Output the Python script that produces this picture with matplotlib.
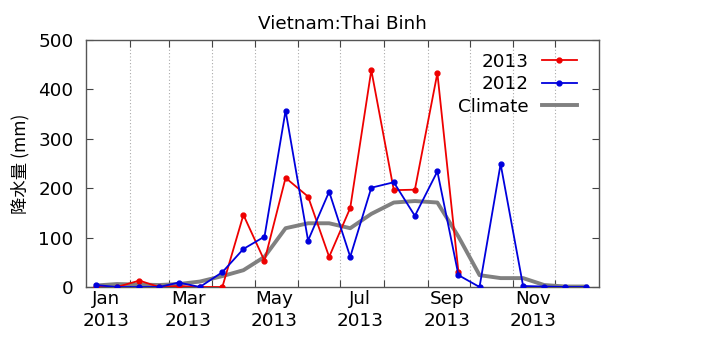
import datetime as dt
import matplotlib
matplotlib.use("Agg")
import matplotlib.pyplot as plt
import matplotlib.dates as mdates

# semi-monthly rainfall (mm), Thai Binh
half_months = [(m, d) for m in range(1, 13) for d in (8, 23)]
dates = [dt.date(2013, m, 22 if (m == 2 and d == 23) else d) for m, d in half_months]

rain_2013 = [0, 0, 13, 0, 2, 0, 0, 146, 53, 221, 183, 61,
             160, 439, 196, 197, 433, 30]
rain_2012 = [4, 0, 0, 0, 9, 0, 30, 77, 102, 357, 94, 193,
             61, 201, 212, 144, 234, 24, 0, 249, 2, 1, 0, 0]
climate = [3, 6, 5, 4, 6, 11, 22, 34, 61, 119, 129, 129,
           119, 148, 171, 174, 171, 102, 24, 18, 18, 4, 1, 1]

month_starts = [dt.date(2013, m, 1) for m in range(2, 13)]
label_dates = [dt.date(2013, m, 15) for m in (1, 3, 5, 7, 9, 11)]
label_texts = ["Jan\n2013", "Mar\n2013", "May\n2013", "Jul\n2013", "Sep\n2013", "Nov\n2013"]

fs = 13.2
plt.rcParams['font.family'] = ['DejaVu Sans']
fig = plt.figure(figsize=(7.02, 3.39), dpi=100)
ax = fig.add_axes([86 / 702, 52 / 339, 513 / 702, 247 / 339])

ax.plot(dates, climate, color='#808080', lw=2.8, label='Climate', zorder=2)
ax.plot(dates[:len(rain_2013)], rain_2013, color='#ee0000', lw=1.3,
        marker='o', ms=3.5, label='2013', zorder=3)
ax.plot(dates, rain_2012, color='#0000dd', lw=1.3,
        marker='o', ms=3.5, label='2012', zorder=4)

ax.set_xlim(dt.date(2013, 1, 1), dt.date(2014, 1, 1))
ax.set_ylim(0, 500)
ax.set_yticks(range(0, 501, 100))

ax.set_xticks(month_starts)
ax.set_xticklabels([])
ax.set_xticks(label_dates, minor=True)
ax.set_xticklabels(label_texts, minor=True, linespacing=1.3)
ax.tick_params(axis='x', which='minor', length=0, pad=2, labelsize=fs)
ax.tick_params(axis='x', which='major', direction='in', length=5,
               top=True, color='#444444')
ax.tick_params(axis='y', direction='in', length=5, right=True,
               labelsize=fs, color='#444444', pad=9)
ax.grid(axis='x', which='major', color='#aaaaaa', ls=(0, (1, 2)), lw=0.8)

for sp in ax.spines.values():
    sp.set_color('#555555')
    sp.set_linewidth(1.0)

ax.set_title('Vietnam:Thai Binh', fontsize=fs, pad=8)
ax.set_ylabel('降水量 (mm)', family=['Noto Sans CJK JP', 'DejaVu Sans'],
              fontsize=12.5, labelpad=6)

handles, labels = ax.get_legend_handles_labels()
order = [1, 2, 0]
leg = ax.legend([handles[i] for i in order], [labels[i] for i in order],
                loc='upper right', frameon=False, markerfirst=False,
                fontsize=fs, handlelength=1.9, handletextpad=0.7,
                labelspacing=0.25, borderaxespad=0.2,
                bbox_to_anchor=(0.978, 0.993))
for t in leg.get_texts():
    t.set_ha('right')

fig.savefig('out.png', dpi=100)
